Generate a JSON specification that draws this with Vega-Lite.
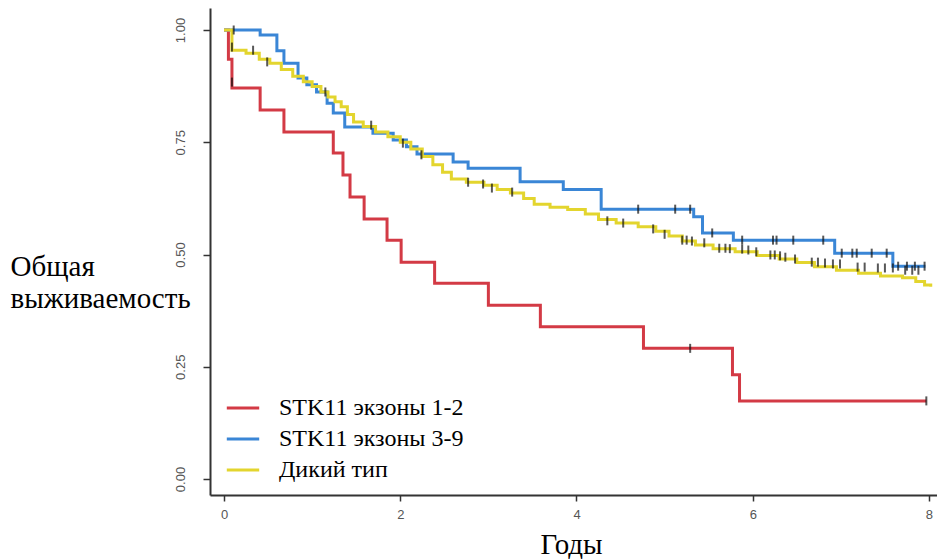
{
  "$schema": "https://vega.github.io/schema/vega-lite/v6.json",
  "width": 727,
  "height": 487,
  "autosize": {"type": "none"},
  "padding": {"left": 210, "top": 8, "right": 0, "bottom": 64},
  "background": "white",
  "config": {
    "view": {"stroke": null},
    "font": "Liberation Serif",
    "legend": {"labelFont": "Liberation Serif", "labelFontSize": 24, "labelColor": "#000"}
  },
  "datasets": {
    "curves": [
      {"group": "STK11 экзоны 1-2", "t": 0, "s": 1.0},
      {"group": "STK11 экзоны 1-2", "t": 0.05, "s": 0.935},
      {"group": "STK11 экзоны 1-2", "t": 0.09, "s": 0.871},
      {"group": "STK11 экзоны 1-2", "t": 0.41, "s": 0.822},
      {"group": "STK11 экзоны 1-2", "t": 0.68, "s": 0.773},
      {"group": "STK11 экзоны 1-2", "t": 1.24, "s": 0.726},
      {"group": "STK11 экзоны 1-2", "t": 1.35, "s": 0.677},
      {"group": "STK11 экзоны 1-2", "t": 1.43, "s": 0.628},
      {"group": "STK11 экзоны 1-2", "t": 1.59, "s": 0.579},
      {"group": "STK11 экзоны 1-2", "t": 1.85, "s": 0.532},
      {"group": "STK11 экзоны 1-2", "t": 2.01, "s": 0.483},
      {"group": "STK11 экзоны 1-2", "t": 2.39, "s": 0.436},
      {"group": "STK11 экзоны 1-2", "t": 3.0, "s": 0.387},
      {"group": "STK11 экзоны 1-2", "t": 3.59, "s": 0.339},
      {"group": "STK11 экзоны 1-2", "t": 4.76, "s": 0.291},
      {"group": "STK11 экзоны 1-2", "t": 5.77, "s": 0.232},
      {"group": "STK11 экзоны 1-2", "t": 5.85, "s": 0.174},
      {"group": "STK11 экзоны 1-2", "t": 7.97, "s": 0.174},
      {"group": "STK11 экзоны 3-9", "t": 0, "s": 1.0},
      {"group": "STK11 экзоны 3-9", "t": 0.41, "s": 0.989},
      {"group": "STK11 экзоны 3-9", "t": 0.6, "s": 0.954},
      {"group": "STK11 экзоны 3-9", "t": 0.68, "s": 0.926},
      {"group": "STK11 экзоны 3-9", "t": 0.84, "s": 0.893},
      {"group": "STK11 экзоны 3-9", "t": 0.94, "s": 0.878},
      {"group": "STK11 экзоны 3-9", "t": 1.05, "s": 0.862},
      {"group": "STK11 экзоны 3-9", "t": 1.17, "s": 0.837},
      {"group": "STK11 экзоны 3-9", "t": 1.24, "s": 0.815},
      {"group": "STK11 экзоны 3-9", "t": 1.37, "s": 0.784},
      {"group": "STK11 экзоны 3-9", "t": 1.69, "s": 0.77},
      {"group": "STK11 экзоны 3-9", "t": 1.92, "s": 0.755},
      {"group": "STK11 экзоны 3-9", "t": 2.07, "s": 0.74},
      {"group": "STK11 экзоны 3-9", "t": 2.19, "s": 0.724},
      {"group": "STK11 экзоны 3-9", "t": 2.6, "s": 0.706},
      {"group": "STK11 экзоны 3-9", "t": 2.77, "s": 0.692},
      {"group": "STK11 экзоны 3-9", "t": 3.36, "s": 0.662},
      {"group": "STK11 экзоны 3-9", "t": 3.85, "s": 0.645},
      {"group": "STK11 экзоны 3-9", "t": 4.28, "s": 0.601},
      {"group": "STK11 экзоны 3-9", "t": 5.33, "s": 0.584},
      {"group": "STK11 экзоны 3-9", "t": 5.43, "s": 0.548},
      {"group": "STK11 экзоны 3-9", "t": 5.78, "s": 0.532},
      {"group": "STK11 экзоны 3-9", "t": 6.93, "s": 0.503},
      {"group": "STK11 экзоны 3-9", "t": 7.59, "s": 0.474},
      {"group": "STK11 экзоны 3-9", "t": 7.96, "s": 0.474},
      {"group": "Дикий тип", "t": 0, "s": 1.0},
      {"group": "Дикий тип", "t": 0.09, "s": 0.955},
      {"group": "Дикий тип", "t": 0.25, "s": 0.948},
      {"group": "Дикий тип", "t": 0.4, "s": 0.935},
      {"group": "Дикий тип", "t": 0.52, "s": 0.926},
      {"group": "Дикий тип", "t": 0.65, "s": 0.912},
      {"group": "Дикий тип", "t": 0.78, "s": 0.897},
      {"group": "Дикий тип", "t": 0.9, "s": 0.885},
      {"group": "Дикий тип", "t": 1.0, "s": 0.874},
      {"group": "Дикий тип", "t": 1.1, "s": 0.862},
      {"group": "Дикий тип", "t": 1.18, "s": 0.851},
      {"group": "Дикий тип", "t": 1.26, "s": 0.84},
      {"group": "Дикий тип", "t": 1.33, "s": 0.829},
      {"group": "Дикий тип", "t": 1.4, "s": 0.812},
      {"group": "Дикий тип", "t": 1.47, "s": 0.795},
      {"group": "Дикий тип", "t": 1.58, "s": 0.785},
      {"group": "Дикий тип", "t": 1.72, "s": 0.773},
      {"group": "Дикий тип", "t": 1.86, "s": 0.762},
      {"group": "Дикий тип", "t": 2.0, "s": 0.75},
      {"group": "Дикий тип", "t": 2.12, "s": 0.735},
      {"group": "Дикий тип", "t": 2.25, "s": 0.718},
      {"group": "Дикий тип", "t": 2.37, "s": 0.7},
      {"group": "Дикий тип", "t": 2.48, "s": 0.683},
      {"group": "Дикий тип", "t": 2.58, "s": 0.668},
      {"group": "Дикий тип", "t": 2.75, "s": 0.661},
      {"group": "Дикий тип", "t": 2.95, "s": 0.654},
      {"group": "Дикий тип", "t": 3.1, "s": 0.645},
      {"group": "Дикий тип", "t": 3.25, "s": 0.637},
      {"group": "Дикий тип", "t": 3.4, "s": 0.625},
      {"group": "Дикий тип", "t": 3.52, "s": 0.612},
      {"group": "Дикий тип", "t": 3.7, "s": 0.605},
      {"group": "Дикий тип", "t": 3.9, "s": 0.6},
      {"group": "Дикий тип", "t": 4.1, "s": 0.59},
      {"group": "Дикий тип", "t": 4.25, "s": 0.578},
      {"group": "Дикий тип", "t": 4.45, "s": 0.57},
      {"group": "Дикий тип", "t": 4.7, "s": 0.562},
      {"group": "Дикий тип", "t": 4.9, "s": 0.552},
      {"group": "Дикий тип", "t": 5.05, "s": 0.541},
      {"group": "Дикий тип", "t": 5.2, "s": 0.53},
      {"group": "Дикий тип", "t": 5.35, "s": 0.521},
      {"group": "Дикий тип", "t": 5.55, "s": 0.513},
      {"group": "Дикий тип", "t": 5.8, "s": 0.506},
      {"group": "Дикий тип", "t": 6.05, "s": 0.498},
      {"group": "Дикий тип", "t": 6.3, "s": 0.49},
      {"group": "Дикий тип", "t": 6.5, "s": 0.482},
      {"group": "Дикий тип", "t": 6.7, "s": 0.473},
      {"group": "Дикий тип", "t": 6.95, "s": 0.465},
      {"group": "Дикий тип", "t": 7.2, "s": 0.458},
      {"group": "Дикий тип", "t": 7.45, "s": 0.452},
      {"group": "Дикий тип", "t": 7.7, "s": 0.448},
      {"group": "Дикий тип", "t": 7.85, "s": 0.44},
      {"group": "Дикий тип", "t": 7.95, "s": 0.432},
      {"group": "Дикий тип", "t": 8.02, "s": 0.428}
    ],
    "censor": [
      {"t": 0.09, "s": 0.884}, {"t": 5.29, "s": 0.291}, {"t": 7.97, "s": 0.174},
      {"t": 0.11, "s": 1.0}, {"t": 4.7, "s": 0.601}, {"t": 5.12, "s": 0.601}, {"t": 5.29, "s": 0.601},
      {"t": 5.54, "s": 0.548}, {"t": 5.88, "s": 0.532}, {"t": 6.23, "s": 0.532}, {"t": 6.27, "s": 0.532},
      {"t": 6.46, "s": 0.532}, {"t": 6.8, "s": 0.532}, {"t": 7.01, "s": 0.503}, {"t": 7.13, "s": 0.503},
      {"t": 7.18, "s": 0.503}, {"t": 7.35, "s": 0.503}, {"t": 7.52, "s": 0.503}, {"t": 7.65, "s": 0.474},
      {"t": 7.75, "s": 0.474}, {"t": 7.84, "s": 0.474}, {"t": 7.95, "s": 0.474},
      {"t": 0.09, "s": 0.962}, {"t": 0.33, "s": 0.955}, {"t": 0.49, "s": 0.929}, {"t": 1.15, "s": 0.862},
      {"t": 1.67, "s": 0.788}, {"t": 2.03, "s": 0.748}, {"t": 2.24, "s": 0.722}, {"t": 2.77, "s": 0.661},
      {"t": 2.94, "s": 0.657}, {"t": 3.04, "s": 0.648}, {"t": 3.27, "s": 0.639}, {"t": 4.35, "s": 0.575},
      {"t": 4.53, "s": 0.57}, {"t": 4.87, "s": 0.557}, {"t": 5.0, "s": 0.545}, {"t": 5.2, "s": 0.532},
      {"t": 5.25, "s": 0.532}, {"t": 5.31, "s": 0.53}, {"t": 5.45, "s": 0.526}, {"t": 5.62, "s": 0.514},
      {"t": 5.69, "s": 0.514}, {"t": 5.74, "s": 0.513}, {"t": 5.88, "s": 0.512}, {"t": 5.95, "s": 0.51},
      {"t": 6.04, "s": 0.506}, {"t": 6.2, "s": 0.499}, {"t": 6.25, "s": 0.499}, {"t": 6.31, "s": 0.497},
      {"t": 6.37, "s": 0.494}, {"t": 6.48, "s": 0.49}, {"t": 6.67, "s": 0.483}, {"t": 6.74, "s": 0.483},
      {"t": 6.82, "s": 0.481}, {"t": 6.91, "s": 0.479}, {"t": 6.99, "s": 0.479}, {"t": 7.19, "s": 0.472},
      {"t": 7.27, "s": 0.472}, {"t": 7.42, "s": 0.47}, {"t": 7.5, "s": 0.47}, {"t": 7.59, "s": 0.47},
      {"t": 7.73, "s": 0.465}, {"t": 7.81, "s": 0.465}, {"t": 7.88, "s": 0.465}
    ]
  },
  "layer": [
    {
      "data": {"name": "curves"},
      "mark": {"type": "line", "interpolate": "step-after", "strokeWidth": 3},
      "encoding": {
        "x": {
          "field": "t", "type": "quantitative",
          "scale": {"domain": [-0.159, 8.091], "nice": false, "zero": false},
          "axis": {
            "title": "Годы", "values": [0, 2, 4, 6, 8], "format": "d", "grid": false,
            "domainColor": "#333", "domainWidth": 2, "tickColor": "#333", "tickWidth": 1.5, "tickSize": 6,
            "labelFont": "Liberation Sans", "labelFontSize": 13, "labelColor": "#555", "labelPadding": 7,
            "titleFont": "Liberation Serif", "titleFontSize": 29, "titleFontWeight": "normal", "titleColor": "#000",
            "titleX": 361, "titleY": 58, "titleBaseline": "alphabetic", "titleAlign": "center"
          }
        },
        "y": {
          "field": "s", "type": "quantitative",
          "scale": {"domain": [-0.0356, 1.049], "nice": false, "zero": false},
          "axis": {
            "title": ["Общая", "выживаемость"], "values": [0, 0.25, 0.5, 0.75, 1], "format": ".2f", "grid": false,
            "domainColor": "#333", "domainWidth": 2, "tickColor": "#333", "tickWidth": 1.5, "tickSize": 7,
            "labelFont": "Liberation Sans", "labelFontSize": 13, "labelColor": "#555", "labelAngle": 270,
            "labelAlign": "center", "labelBaseline": "middle", "labelPadding": 23,
            "titleFont": "Liberation Serif", "titleFontSize": 29, "titleFontWeight": "normal", "titleColor": "#000",
            "titleAngle": 0, "titleAlign": "left", "titleBaseline": "alphabetic", "titleLineHeight": 32,
            "titleX": -200, "titleY": 267
          }
        },
        "color": {
          "field": "group", "type": "nominal",
          "scale": {
            "domain": ["STK11 экзоны 1-2", "STK11 экзоны 3-9", "Дикий тип"],
            "range": ["#D33A45", "#3A86D6", "#E3D52E"]
          },
          "legend": {
            "title": null, "orient": "none", "legendX": 15, "legendY": 382, "padding": 0,
            "symbolType": "stroke", "symbolSize": 1050, "symbolStrokeWidth": 3, "rowPadding": 1,
            "labelFont": "serif", "labelFontSize": 24, "labelColor": "#000", "labelLimit": 0,
            "labelOffset": 18, "labelBaseline": "middle"
          }
        }
      }
    },
    {
      "data": {"name": "censor"},
      "mark": {"type": "tick", "orient": "vertical", "color": "#111", "thickness": 2, "size": 9},
      "encoding": {
        "x": {"field": "t", "type": "quantitative"},
        "y": {"field": "s", "type": "quantitative"}
      }
    }
  ]
}
